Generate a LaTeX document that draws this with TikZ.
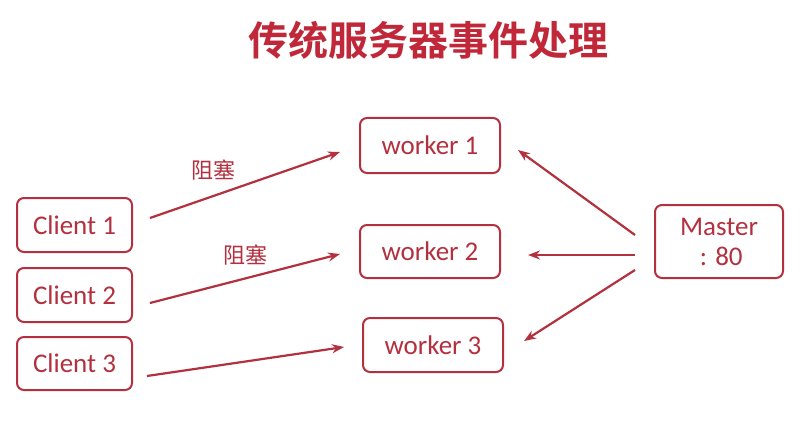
\documentclass[tikz,border=0pt]{standalone}
\usepackage{fontspec}
\setmainfont{Carlito}
\newfontfamily\cjk{Noto Sans CJK SC}
\newfontfamily\cjkb{Noto Sans CJK SC Bold}
\usetikzlibrary{arrows.meta}
\definecolor{dred}{HTML}{B3303F}
\definecolor{tred}{HTML}{C0283A}
\begin{document}
\begin{tikzpicture}[x=1pt,y=-1pt,
  box/.style={draw=dred,line width=2pt,rounded corners=7pt,text=dred,font=\fontsize{27}{30}\selectfont,align=center,inner sep=0pt},
  arr/.style={draw=dred,line width=2.2pt,-{Stealth[length=12pt,width=9pt]}},
  lbl/.style={text=dred,font=\cjk\fontsize{22}{24}\selectfont}]
\useasboundingbox (0,0) rectangle (808,425);
\node[text=tred,font=\cjkb\fontsize{40}{44}\selectfont] (t) at (428,40) {传统服务器事件处理};
\node[box,minimum width=115pt,minimum height=54pt] (c1) at (74.5,225) {Client 1};
\node[box,minimum width=115pt,minimum height=54pt] (c2) at (74.5,295) {Client 2};
\node[box,minimum width=115pt,minimum height=53pt] (c3) at (74.5,363.5) {Client 3};
\node[box,minimum width=140pt,minimum height=55pt] (w1) at (430,145.5) {worker 1};
\node[box,minimum width=140pt,minimum height=53pt] (w2) at (430,251.5) {worker 2};
\node[box,minimum width=140pt,minimum height=54pt] (w3) at (433,345) {worker 3};
\node[box,minimum width=128pt,minimum height=73pt] (m) at (719,241.5) {Master\\\,: 80};
\coordinate (a1s) at (150,218); \coordinate (a1e) at (340,152);
\coordinate (a2s) at (150,303); \coordinate (a2e) at (340,254);
\coordinate (a3s) at (147,376); \coordinate (a3e) at (344,347);
\coordinate (m1s) at (635,235); \coordinate (m1e) at (518,150);
\coordinate (m2s) at (635,255); \coordinate (m2e) at (528,255);
\coordinate (m3s) at (635,270); \coordinate (m3e) at (524,341);
\draw[arr] (a1s) -- (a1e);
\draw[arr] (a2s) -- (a2e);
\draw[arr] (a3s) -- (a3e);
\draw[arr] (m1s) -- (m1e);
\draw[arr] (m2s) -- (m2e);
\draw[arr] (m3s) -- (m3e);
\node[lbl] (l1) at (213,170) {阻塞};
\node[lbl] (l2) at (245,255) {阻塞};
\end{tikzpicture}
\end{document}
